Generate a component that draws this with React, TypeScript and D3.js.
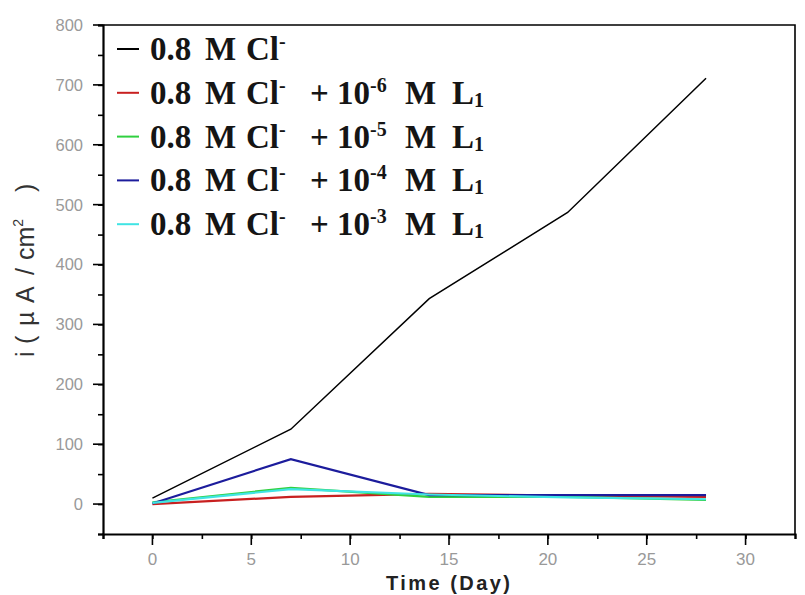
import React, { useRef, useEffect } from "react";
import * as d3 from "d3";

// days of immersion
const days = [0, 7, 14, 21, 28];

// current density values (uA/cm2)
const blankCl = [10, 125, 343, 487, 711];
const l1e6 = [0, 12, 17, 14, 12];
const l1e5 = [3, 27, 12, 12, 7];
const l1e4 = [1, 75, 15, 15, 15];
const l1e3 = [2, 25, 16, 11, 8];

const seriesNames = ["blank", "1e-6", "1e-5", "1e-4", "1e-3"];
const seriesColors = ["#000000", "#c82020", "#30d040", "#1c1c9c", "#40e4e4"];
const exponents = ["", "-6", "-5", "-4", "-3"];

const xTicks = [0, 5, 10, 15, 20, 25, 30];
const yTicks = [0, 100, 200, 300, 400, 500, 600, 700, 800];

const App = () => {
  const ref = useRef(null);

  useEffect(() => {
    const svg = d3.select(ref.current);
    svg.selectAll("*").remove();

    const left = 103;
    const right = 795;
    const top = 25;
    const bottom = 534;

    const x = d3.scaleLinear().domain([-2.5, 32.5]).range([left, right]);
    const y = d3.scaleLinear().domain([-50, 800]).range([bottom, top]);

    const values = [blankCl, l1e6, l1e5, l1e4, l1e3];

    // frame
    svg
      .append("path")
      .attr("d", `M${left},${top}H${right}V${bottom}`)
      .attr("fill", "none")
      .attr("stroke", "#000")
      .attr("stroke-width", 1.6);

    // y axis
    const yAxis = svg.append("g").attr("transform", `translate(${left},0)`);
    yAxis
      .call(
        d3
          .axisLeft(y)
          .tickValues(d3.range(-50, 801, 50))
          .tickSize(5)
          .tickFormat(() => "")
      )
      .call((g) => g.select(".domain").attr("stroke-width", 2.2))
      .call((g) => g.selectAll(".tick line").attr("stroke-width", 1.6));
    yAxis
      .selectAll(".major")
      .data(yTicks)
      .enter()
      .append("line")
      .attr("x1", -10)
      .attr("x2", 0)
      .attr("y1", (d) => y(d))
      .attr("y2", (d) => y(d))
      .attr("stroke", "#000")
      .attr("stroke-width", 1.6);
    yAxis
      .selectAll(".lbl")
      .data(yTicks)
      .enter()
      .append("text")
      .attr("x", -20)
      .attr("y", (d) => y(d))
      .attr("dy", "0.36em")
      .attr("text-anchor", "end")
      .attr("font-family", "Liberation Sans, Arial, sans-serif")
      .attr("font-size", 16.5)
      .attr("fill", "#999")
      .text((d) => d);

    // x axis
    const xAxis = svg.append("g").attr("transform", `translate(0,${bottom})`);
    xAxis
      .call(
        d3
          .axisBottom(x)
          .tickValues(d3.range(-2.5, 32.6, 2.5))
          .tickSize(5)
          .tickFormat(() => "")
      )
      .call((g) => g.select(".domain").attr("stroke-width", 2.2))
      .call((g) => g.selectAll(".tick line").attr("stroke-width", 1.6));
    xAxis
      .selectAll(".major")
      .data(xTicks)
      .enter()
      .append("line")
      .attr("x1", (d) => x(d))
      .attr("x2", (d) => x(d))
      .attr("y1", 0)
      .attr("y2", 11)
      .attr("stroke", "#000")
      .attr("stroke-width", 1.6);
    xAxis
      .selectAll(".lbl")
      .data(xTicks)
      .enter()
      .append("text")
      .attr("x", (d) => x(d))
      .attr("y", 31)
      .attr("text-anchor", "middle")
      .attr("font-family", "Liberation Sans, Arial, sans-serif")
      .attr("font-size", 17)
      .attr("fill", "#999")
      .text((d) => d);

    // axis titles
    svg
      .append("text")
      .attr("x", 386)
      .attr("y", 590)
      .attr("textLength", 124)
      .attr("lengthAdjust", "spacing")
      .attr("font-family", "Liberation Sans, Arial, sans-serif")
      .attr("font-weight", "bold")
      .attr("font-size", 20)
      .attr("fill", "#222")
      .text("Time (Day)");

    const yTitle = svg
      .append("text")
      .attr("transform", "translate(34,357) rotate(-90)")
      .attr("font-family", "Liberation Sans, Arial, sans-serif")
      .attr("font-size", 25)
      .attr("fill", "#333");
    yTitle.append("tspan").attr("x", 0).text("i");
    yTitle.append("tspan").attr("x", 13).text("(");
    yTitle.append("tspan").attr("x", 31).text("µ");
    yTitle.append("tspan").attr("x", 54).text("A");
    yTitle.append("tspan").attr("x", 82).text("/");
    yTitle.append("tspan").attr("x", 97).text("cm");
    yTitle.append("tspan").attr("dy", -11).attr("font-size", 14).text("2");
    yTitle.append("tspan").attr("x", 165).attr("dy", 11).text(")");

    // lines
    const line = d3
      .line<number>()
      .x((_, i) => x(days[i]))
      .y((d) => y(d));

    values.forEach((v, i) => {
      svg
        .append("path")
        .datum(v)
        .attr("d", line)
        .attr("fill", "none")
        .attr("stroke", seriesColors[i])
        .attr("stroke-width", i === 0 ? 1.5 : 2.2)
        .attr("class", seriesNames[i]);
    });

    // legend
    const legend = svg.append("g");
    seriesNames.forEach((name, i) => {
      const ly = 49 + i * 43.8;
      legend
        .append("line")
        .attr("x1", 117)
        .attr("x2", 139)
        .attr("y1", ly)
        .attr("y2", ly)
        .attr("stroke", seriesColors[i])
        .attr("stroke-width", 2);
      const t = legend
        .append("text")
        .attr("y", ly + 11)
        .attr("font-family", "Liberation Serif, Times New Roman, serif")
        .attr("font-weight", "bold")
        .attr("font-size", 33)
        .attr("fill", "#151515");
      t.append("tspan").attr("x", 150).text("0.8");
      t.append("tspan").attr("x", 205).text("M");
      t.append("tspan").attr("x", 246).text("Cl");
      t.append("tspan").attr("dy", -12).attr("font-size", 20).text("-");
      if (exponents[i]) {
        t.append("tspan").attr("x", 310).attr("dy", 12).text("+");
        t.append("tspan").attr("x", 337).text("10");
        t.append("tspan").attr("dy", -12).attr("font-size", 20).text(exponents[i]);
        t.append("tspan").attr("x", 405).attr("dy", 12).text("M");
        t.append("tspan").attr("x", 452).text("L");
        t.append("tspan").attr("dy", 3).attr("font-size", 20).text("1");
      }
    });
  }, []);

  return (
    <svg
      ref={ref}
      width={805}
      height={595}
      style={{ position: "absolute", left: 0, top: 0, background: "#fff" }}
    ></svg>
  );
};

export default App;
